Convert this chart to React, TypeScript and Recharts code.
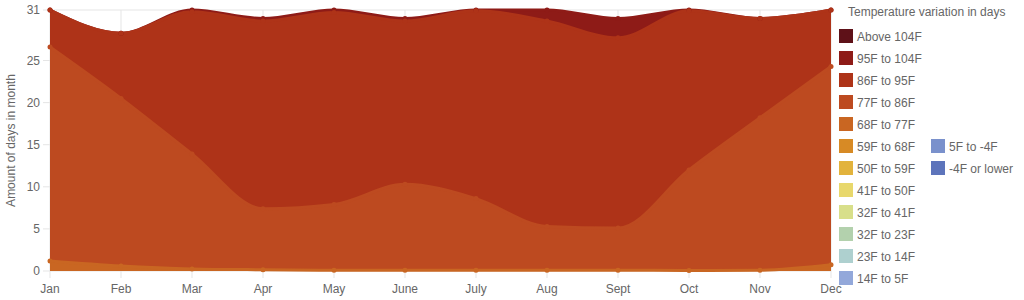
import { AreaChart, Area, XAxis, YAxis, CartesianGrid, Label } from "recharts";

const months = ["Jan", "Feb", "Mar", "Apr", "May", "June", "July", "Aug", "Sept", "Oct", "Nov", "Dec"];
const yTicks = [0, 5, 10, 15, 20, 25, 31];

// days per month in each temperature band (hot -> cold)
const above104 = [0, 0, 0, 0, 0, 0, 0, 0, 0, 0, 0, 0];
const f95to104 = [0, 0, 0.2, 0.3, 0.3, 0.3, 0.1, 1.3, 2.3, 0.1, 0, 0];
const f86to95 = [4.4, 7.75, 16.9, 22.3, 22.8, 19.4, 22.3, 24.4, 22.6, 18.9, 11.8, 6.7];
const f77to86 = [25.4, 19.9, 13.65, 7.25, 7.8, 10.2, 8.5, 5.2, 5.0, 11.95, 18.1, 23.55];
const f68to77 = [1.2, 0.6, 0.25, 0.15, 0.1, 0.1, 0.1, 0.1, 0.1, 0.05, 0.1, 0.75];
const f59to68 = [0, 0, 0, 0, 0, 0, 0, 0, 0, 0, 0, 0];
const f50to59 = [0, 0, 0, 0, 0, 0, 0, 0, 0, 0, 0, 0];
const f41to50 = [0, 0, 0, 0, 0, 0, 0, 0, 0, 0, 0, 0];
const f32to41 = [0, 0, 0, 0, 0, 0, 0, 0, 0, 0, 0, 0];
const f23to32 = [0, 0, 0, 0, 0, 0, 0, 0, 0, 0, 0, 0];
const f14to23 = [0, 0, 0, 0, 0, 0, 0, 0, 0, 0, 0, 0];
const f5to14 = [0, 0, 0, 0, 0, 0, 0, 0, 0, 0, 0, 0];
const fm4to5 = [0, 0, 0, 0, 0, 0, 0, 0, 0, 0, 0, 0];
const belowM4 = [0, 0, 0, 0, 0, 0, 0, 0, 0, 0, 0, 0];

const series = [
  { key: "above104", name: "Above 104F", color: "#5e1118", values: above104 },
  { key: "f95to104", name: "95F to 104F", color: "#8e1b17", values: f95to104 },
  { key: "f86to95", name: "86F to 95F", color: "#ae3318", values: f86to95 },
  { key: "f77to86", name: "77F to 86F", color: "#bd4a20", values: f77to86 },
  { key: "f68to77", name: "68F to 77F", color: "#c96622", values: f68to77 },
  { key: "f59to68", name: "59F to 68F", color: "#d78a25", values: f59to68 },
  { key: "f50to59", name: "50F to 59F", color: "#e2b33c", values: f50to59 },
  { key: "f41to50", name: "41F to 50F", color: "#e8d86c", values: f41to50 },
  { key: "f32to41", name: "32F to 41F", color: "#d8df8a", values: f32to41 },
  { key: "f23to32", name: "32F to 23F", color: "#b3d1ad", values: f23to32 },
  { key: "f14to23", name: "23F to 14F", color: "#aed0cf", values: f14to23 },
  { key: "f5to14", name: "14F to 5F", color: "#93a8da", values: f5to14 },
  { key: "fm4to5", name: "5F to -4F", color: "#7a91cc", values: fm4to5 },
  { key: "belowM4", name: "-4F or lower", color: "#5d74bb", values: belowM4 },
];

const data = months.map((month, i) => {
  const row: Record<string, number | string> = { month };
  series.forEach((s) => (row[s.key] = s.values[i]));
  return row;
});

const FONT = '"Liberation Sans", Arial, sans-serif';
const TEXT = "#666";
const GRID = "#e5e5e5";

function YTitle({ viewBox }: any) {
  const x = viewBox.x + 3;
  const y = viewBox.y + viewBox.height / 2;
  return (
    <text x={x} y={y} transform={`rotate(-90, ${x}, ${y})`} textAnchor="middle" dominantBaseline="central" fill={TEXT} fontSize={12} fontFamily={FONT}>
      Amount of days in month
    </text>
  );
}

function TempLegend() {
  return (
    <div style={{ position: "absolute", left: 0, top: 0, fontFamily: FONT, fontSize: 12, color: TEXT }}>
      <div style={{ position: "absolute", left: 848, top: 5, whiteSpace: "nowrap" }}>Temperature variation in days</div>
      {series.map((s, i) => {
        const col = i < 12 ? 0 : 1;
        const row = i < 12 ? i : i - 7;
        const left = 839 + col * 92;
        const top = 28.5 + row * 22;
        return (
          <div key={s.key} style={{ position: "absolute", left, top, height: 14, display: "flex", alignItems: "center", whiteSpace: "nowrap" }}>
            <span style={{ width: 14, height: 14, background: s.color, display: "inline-block", marginRight: 4 }} />
            <span style={{ position: "relative", top: 1 }}>{s.name}</span>
          </div>
        );
      })}
    </div>
  );
}

export default function App() {
  return (
    <div style={{ position: "absolute", left: 0, top: 0, width: 1024, height: 300, background: "#fff" }}>
      <AreaChart width={1024} height={300} data={data} reverseStackOrder margin={{ top: 10, right: 193, bottom: 0, left: 8 }}>
        <CartesianGrid stroke={GRID} />
        <XAxis
          dataKey="month"
          height={29}
          axisLine={false}
          tickLine={{ stroke: GRID }}
          tickSize={7}
          tickMargin={6}
          interval={0}
          tick={{ fontSize: 12, fill: TEXT, fontFamily: FONT }}
        />
        <YAxis
          width={42}
          domain={[0, 31]}
          ticks={yTicks}
          interval={0}
          axisLine={false}
          tickLine={{ stroke: GRID }}
          tickSize={7}
          tickMargin={3}
          tick={{ fontSize: 12, fill: TEXT, fontFamily: FONT }}
        >
          <Label content={<YTitle />} />
        </YAxis>
        {series.map((s) => {
          const empty = s.values.every((v) => v === 0);
          return (
            <Area
              key={s.key}
              dataKey={s.key}
              name={s.name}
              stackId="days"
              type="monotone"
              fill={s.color}
              fillOpacity={1}
              stroke={empty ? "none" : s.color}
              strokeWidth={3}
              dot={empty ? false : { r: 2.5, fill: s.color, stroke: "none" }}
              activeDot={false}
              isAnimationActive={false}
            />
          );
        })}
      </AreaChart>
      <TempLegend />
    </div>
  );
}
